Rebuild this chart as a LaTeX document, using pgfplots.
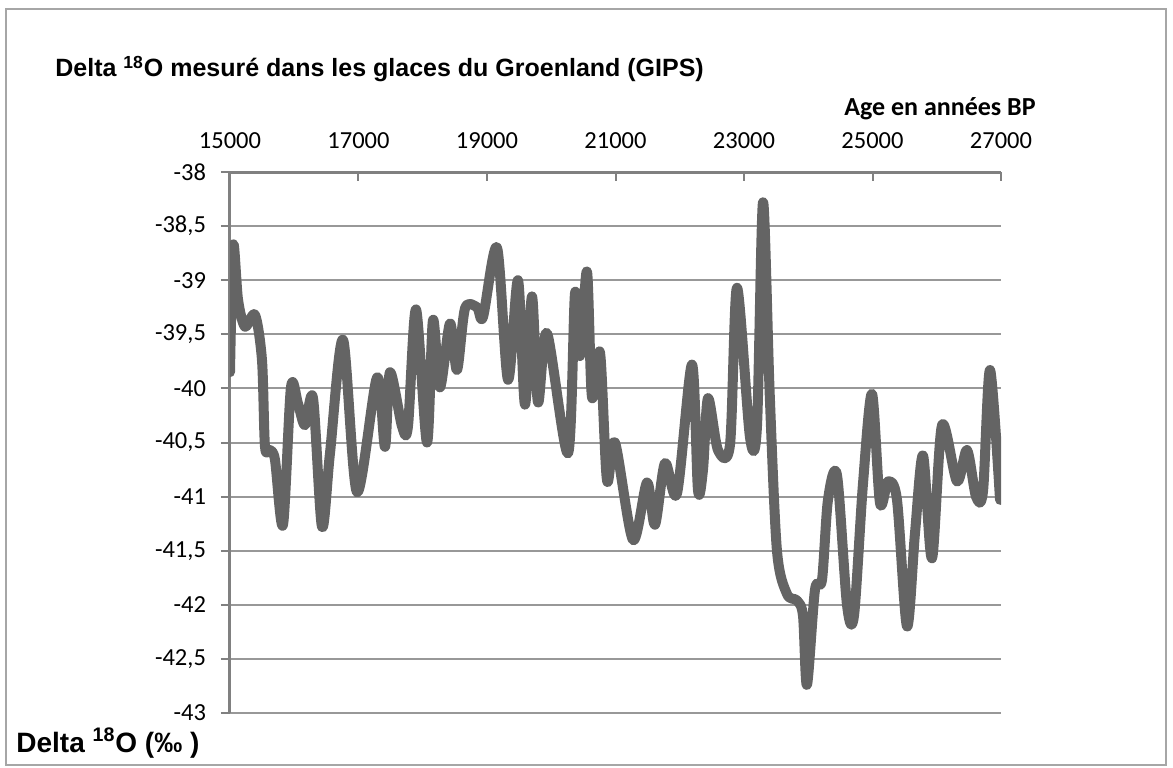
\documentclass[border=0pt]{standalone}
\usepackage{fontspec}
\setmainfont{Liberation Sans}
\newfontfamily\carlito{Carlito}
\usepackage{pgfplots}
\pgfplotsset{compat=1.18}
\definecolor{linegray}{HTML}{646464}
\definecolor{gridgray}{HTML}{989898}
\definecolor{axisgray}{HTML}{808080}
\definecolor{framegray}{HTML}{A6A6A6}

% delta 18O, GISP, age BP
\pgfplotstableread{
age value
15000 -39.85
15050 -38.68
15125 -39.18
15233 -39.43
15389 -39.32
15498 -39.74
15545 -40.54
15623 -40.57
15700 -40.66
15825 -41.26
15949 -39.99
16058 -40.14
16167 -40.34
16292 -40.09
16432 -41.28
16556 -40.60
16759 -39.55
16977 -40.96
17288 -39.90
17412 -40.54
17490 -39.85
17677 -40.35
17770 -40.35
17895 -39.27
18066 -40.50
18159 -39.37
18268 -39.99
18424 -39.40
18533 -39.83
18658 -39.26
18844 -39.25
18938 -39.34
19156 -38.70
19327 -39.92
19482 -39.00
19591 -40.15
19700 -39.15
19794 -40.13
19934 -39.49
20261 -40.60
20370 -39.12
20447 -39.70
20556 -38.92
20634 -40.08
20759 -39.67
20868 -40.85
20992 -40.50
21272 -41.40
21490 -40.87
21614 -41.26
21770 -40.69
21957 -40.97
22190 -39.78
22284 -40.94
22362 -40.75
22440 -40.09
22595 -40.57
22782 -40.52
22891 -39.07
23093 -40.45
23202 -40.35
23296 -38.28
23400 -40.05
23513 -41.50
23669 -41.90
23825 -41.96
23918 -42.10
23980 -42.74
24105 -41.86
24214 -41.77
24307 -41.03
24447 -40.80
24603 -42.00
24712 -42.10
24852 -40.88
24992 -40.05
25117 -41.06
25241 -40.86
25381 -41.03
25537 -42.20
25661 -41.34
25786 -40.62
25926 -41.57
26082 -40.34
26315 -40.86
26471 -40.57
26611 -41.00
26720 -40.95
26829 -39.83
26985 -41.03
}\gisp

\begin{document}
\begin{tikzpicture}
\path[use as bounding box] (-115pt,-27pt) rectangle (471.5pt,356.5pt);
\draw[framegray, line width=1pt] (-112pt,-26pt) rectangle (468pt,352pt);
\begin{axis}[
  at={(0pt,0pt)}, anchor=south west,
  scale only axis, width=385.5pt, height=270.5pt,
  xmin=15000, xmax=27000, ymin=-43, ymax=-38,
  axis x line=top, axis y line=left,
  axis line style={-, draw=axisgray, line width=1.5pt},
  xtick={15000,17000,19000,21000,23000,25000,27000},
  ytick={-43,-42.5,-42,-41.5,-41,-40.5,-40,-39.5,-39,-38.5,-38},
  xtick align=inside, ytick align=outside,
  major tick length=4.5pt,
  tick style={draw=axisgray, line width=1pt},
  ymajorgrids, grid style={draw=gridgray, line width=1pt},
  scaled x ticks=false,
  /pgf/number format/use comma,
  /pgf/number format/1000 sep={},
  /pgf/number format/assume math mode=true,
  tick label style={font=\carlito\fontsize{12.25}{14}\selectfont, text=black},
  xticklabel style={yshift=8pt},
  yticklabel style={xshift=-4pt},
]
\addplot[linegray, line width=5pt, smooth, tension=0.5, line join=round, line cap=round] table[x=age, y=value] {\gisp};
\end{axis}
\node[anchor=base west, inner sep=0, font=\bfseries\fontsize{12.5}{15}\selectfont] at (-87.5pt,318pt) {Delta \textsuperscript{18}O mesuré dans les glaces du Groenland (GIPS)};
\node[anchor=base east, inner sep=0, font=\carlito\bfseries\fontsize{13}{15}\selectfont] at (403pt,298.5pt) {Age en années BP};
\node[anchor=base west, inner sep=0, font=\bfseries\fontsize{14}{17}\selectfont] at (-107pt,-19.5pt) {Delta \textsuperscript{18}O (‰ )};
\end{tikzpicture}
\end{document}
